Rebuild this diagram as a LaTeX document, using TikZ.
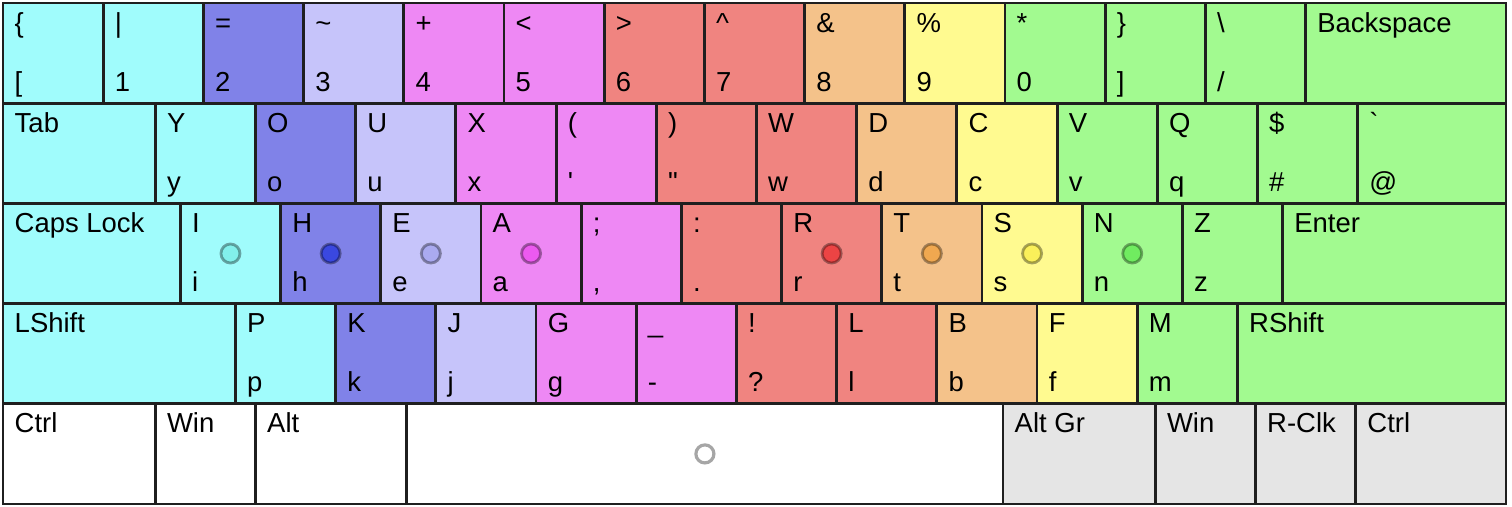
\documentclass[tikz,border=0pt]{standalone}
\usepackage{fontspec}
\setmainfont{Liberation Sans}
\usepackage{xcolor}
\usepackage{tikz}
\usetikzlibrary{positioning, calc}

% key colours
\definecolor{kcyan}{RGB}{160,252,252}
\definecolor{kblue}{RGB}{128,130,232}
\definecolor{klav}{RGB}{198,196,250}
\definecolor{kmag}{RGB}{238,136,244}
\definecolor{kred}{RGB}{240,132,128}
\definecolor{korg}{RGB}{244,194,138}
\definecolor{kyel}{RGB}{255,250,144}
\definecolor{kgrn}{RGB}{162,250,144}
\definecolor{kgry}{RGB}{229,229,229}
% home row dots
\definecolor{dcyan}{RGB}{130,240,235}
\definecolor{dblue}{RGB}{58,72,224}
\definecolor{dlav}{RGB}{170,170,240}
\definecolor{dmag}{RGB}{236,90,240}
\definecolor{dred}{RGB}{236,68,68}
\definecolor{dorg}{RGB}{240,168,80}
\definecolor{dyel}{RGB}{250,240,90}
\definecolor{dgrn}{RGB}{112,236,96}

% name, x, y, width, colour, top, bottom
\newcommand\kbkey[7]{%
  \node[keybox, fill=#5, minimum width=#4cm] (#1) at (#2,#3) {};
  \node[keylbl] (#1t) at ([shift={(0.11,-0.29)}]#1.north west) {#6};
  \node[keylbl] (#1b) at ([shift={(0.11,0.12)}]#1.south west) {#7};
}
% name, x, y, width, colour, label
\newcommand\kbmod[6]{%
  \node[keybox, fill=#5, minimum width=#4cm] (#1) at (#2,#3) {};
  \node[keylbl] (#1t) at ([shift={(0.11,-0.29)}]#1.north west) {#6};
}

\begin{document}
\begin{tikzpicture}[x=1cm, y=1cm,
  keybox/.style={draw=black!88, line width=0.8pt, rectangle, anchor=north west,
    minimum height=1cm, inner sep=0pt, outer sep=0pt},
  keylbl/.style={anchor=base west, inner sep=0pt, font=\fontsize{7.8}{9}\selectfont},
  dot/.style={circle, minimum size=0.19cm, inner sep=0pt, draw=black, draw opacity=0.35, line width=0.8pt},
  spcdot/.style={circle, minimum size=0.18cm, inner sep=0pt, draw=black!35, fill=white, line width=0.9pt}]
  \useasboundingbox (0,0) rectangle (15.09,-5.05);

  % number row
  \foreach \t/\b/\c [count=\i from 0] in {{\{}/{[}/kcyan, \textbar/1/kcyan, =/2/kblue,
      \textasciitilde/3/klav, +/4/kmag, </5/kmag, >/6/kred, \textasciicircum/7/kred,
      \&/8/korg, \%/9/kyel, */0/kgrn, {\}}/{]}/kgrn, \textbackslash/{/}/kgrn}
    {\kbkey{ra\i}{0.03+\i}{-0.03}{1}{\c}{\t}{\b}}
  \kbmod{bksp}{13.03}{-0.03}{2}{kgrn}{Backspace}

  % top row
  \kbmod{tab}{0.03}{-1.03}{1.52}{kcyan}{Tab}
  \foreach \t/\b/\c [count=\i from 0] in {Y/y/kcyan, O/o/kblue, U/u/klav, X/x/kmag,
      {(}/\textquotesingle/kmag, {)}/\textquotedbl/kred, W/w/kred, D/d/korg, C/c/kyel,
      V/v/kgrn, Q/q/kgrn, \$/\#/kgrn}
    {\kbkey{rb\i}{1.55+\i}{-1.03}{1}{\c}{\t}{\b}}
  \kbkey{grave}{13.55}{-1.03}{1.48}{kgrn}{\textasciigrave}{@}

  % home row
  \kbmod{caps}{0.03}{-2.03}{1.77}{kcyan}{Caps Lock}
  \foreach \t/\b/\c [count=\i from 0] in {I/i/kcyan, H/h/kblue, E/e/klav, A/a/kmag,
      ;/{,}/kmag, :/{.}/kred, R/r/kred, T/t/korg, S/s/kyel, N/n/kgrn, Z/z/kgrn}
    {\kbkey{rc\i}{1.80+\i}{-2.03}{1}{\c}{\t}{\b}}
  \kbmod{enter}{12.80}{-2.03}{2.23}{kgrn}{Enter}
  \foreach \k/\c in {0/dcyan, 1/dblue, 2/dlav, 3/dmag, 6/dred, 7/dorg, 8/dyel, 9/dgrn}
    \node[dot, fill=\c] (dot\k) at (rc\k) {};

  % bottom row
  \kbmod{lshift}{0.03}{-3.03}{2.32}{kcyan}{LShift}
  \foreach \t/\b/\c [count=\i from 0] in {P/p/kcyan, K/k/kblue, J/j/klav, G/g/kmag,
      \_/-/kmag, !/?/kred, L/l/kred, B/b/korg, F/f/kyel, M/m/kgrn}
    {\kbkey{rd\i}{2.35+\i}{-3.03}{1}{\c}{\t}{\b}}
  \kbmod{rshift}{12.35}{-3.03}{2.68}{kgrn}{RShift}

  % modifiers
  \kbmod{lctrl}{0.03}{-4.03}{1.52}{white}{Ctrl}
  \kbmod{lwin}{1.55}{-4.03}{1}{white}{Win}
  \kbmod{lalt}{2.55}{-4.03}{1.51}{white}{Alt}
  \node[keybox, fill=white, minimum width=5.95cm] (space) at (4.06,-4.03) {};
  \node[spcdot] (spdot) at (space) {};
  \kbmod{altgr}{10.01}{-4.03}{1.52}{kgry}{Alt Gr}
  \kbmod{rwin}{11.53}{-4.03}{1}{kgry}{Win}
  \kbmod{rclk}{12.53}{-4.03}{1}{kgry}{R-Clk}
  \kbmod{rctrl}{13.53}{-4.03}{1.5}{kgry}{Ctrl}
\end{tikzpicture}
\end{document}
